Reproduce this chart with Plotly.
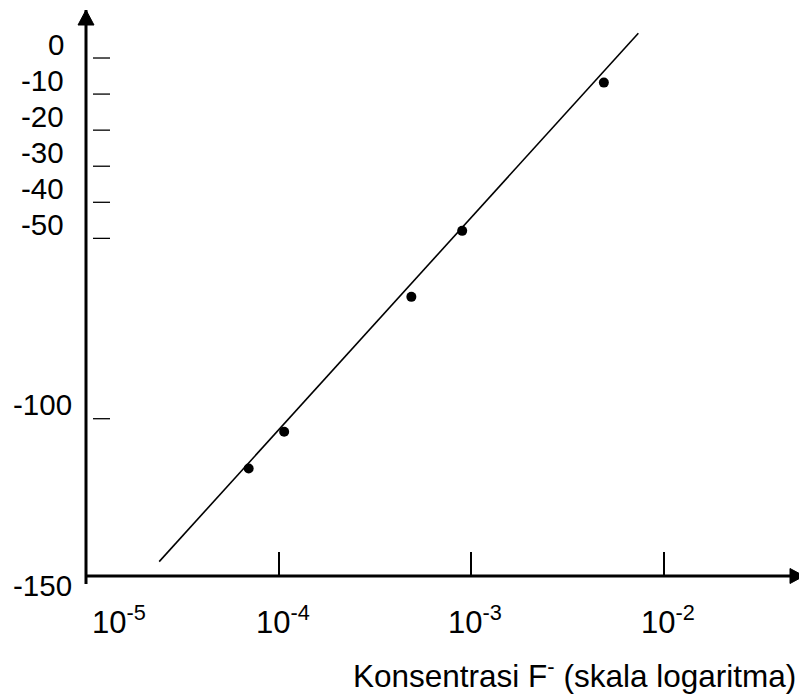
import plotly.graph_objects as go

# Measured fluoride concentrations (mol/L) and electrode potentials (mV)
conc = [7.0e-5, 1.07e-4, 4.9e-4, 9.0e-4, 4.9e-3]
potential = [-117.7, -107.5, -70.1, -51.8, -10.7]

# Calibration line (about 59 mV per decade)
line_conc = [2.4e-5, 7.4e-3]
line_potential = [-143.5, 3.0]

# Axis labelling
y_tick_values = [0, -10, -20, -30, -40, -50, -100]
y_label_values = [0, -10, -20, -30, -40, -50, -100, -150]
x_tick_exponents = [-5, -4, -3, -2]
x_title = "Konsentrasi F<sup>-</sup> (skala logaritma)"

W, H = 799, 694
L, R, T, B = 86, 0, 10, 118
plot_w = W - L - R
plot_h = H - T - B

x_range = [-5, -5 + plot_w / 192.5]
y_range = [-147.49, 9.43]

FONT = "Liberation Sans, Arial, sans-serif"

fig = go.Figure()
fig.add_trace(go.Scatter(x=line_conc, y=line_potential, mode="lines",
                         line=dict(color="black", width=1.6),
                         hoverinfo="skip", showlegend=False))
fig.add_trace(go.Scatter(x=conc, y=potential, mode="markers",
                         marker=dict(color="black", size=10),
                         showlegend=False))


def y_to_paper(v):
    return (v - y_range[0]) / (y_range[1] - y_range[0])


shapes = []
# y axis with arrowhead, running a little below the x axis
shapes.append(dict(type="line", xref="paper", yref="paper",
                   x0=0, x1=0, y0=-8 / plot_h, y1=1,
                   line=dict(color="black", width=3)))
shapes.append(dict(type="path", xref="paper", yref="paper",
                   xsizemode="pixel", ysizemode="pixel",
                   xanchor=0, yanchor=1,
                   path="M -8,-15 L 8,-15 L 0,0 Z",
                   fillcolor="black", line=dict(color="black", width=1)))
# x axis with arrowhead
shapes.append(dict(type="line", xref="paper", yref="paper",
                   x0=0, x1=1, y0=0, y1=0,
                   line=dict(color="black", width=3)))
shapes.append(dict(type="path", xref="paper", yref="paper",
                   xsizemode="pixel", ysizemode="pixel",
                   xanchor=1, yanchor=0,
                   path="M -9,7.5 L -9,-7.5 L 5,0 Z",
                   fillcolor="black", line=dict(color="black", width=1)))
# short dashes beside the y axis
for v in y_tick_values:
    shapes.append(dict(type="line", xref="paper", yref="y",
                       xsizemode="pixel", ysizemode="pixel",
                       xanchor=0, yanchor=v,
                       x0=7, x1=24, y0=-14, y1=-14,
                       line=dict(color="black", width=1.3)))

annotations = []
for v in y_label_values:
    txt = str(v)
    annotations.append(dict(text=txt, xref="paper", yref="paper",
                            x=0, y=y_to_paper(v),
                            xanchor="right", yanchor="middle",
                            xshift=-12 if len(txt) > 3 else -20,
                            showarrow=False,
                            font=dict(family=FONT, size=29.5, color="black")))
for e in x_tick_exponents:
    annotations.append(dict(text=f"10<sup>{e}</sup>", xref="x", yref="paper",
                            x=e, y=0, xanchor="left", yanchor="middle",
                            xshift=4 if e == x_tick_exponents[0] else -25,
                            yshift=-44, showarrow=False,
                            font=dict(family=FONT, size=31, color="black")))
annotations.append(dict(text=x_title, xref="paper", yref="paper",
                        x=1, y=0, xanchor="right", yanchor="middle",
                        xshift=-1, yshift=-98, showarrow=False,
                        font=dict(family=FONT, size=31.5, color="black")))

fig.update_layout(
    width=W, height=H, autosize=False,
    margin=dict(l=L, r=R, t=T, b=B, pad=0),
    paper_bgcolor="white", plot_bgcolor="white",
    shapes=shapes, annotations=annotations,
    showlegend=False,
    xaxis=dict(type="log", range=x_range, showgrid=False, zeroline=False,
               showline=False, ticks="inside", ticklen=24, tickwidth=2,
               tickcolor="black", tickvals=[10.0 ** e for e in x_tick_exponents[1:]],
               showticklabels=False, fixedrange=True),
    yaxis=dict(range=y_range, showgrid=False, zeroline=False, showline=False,
               showticklabels=False, ticks="", fixedrange=True),
)

fig.write_html("out.html")
